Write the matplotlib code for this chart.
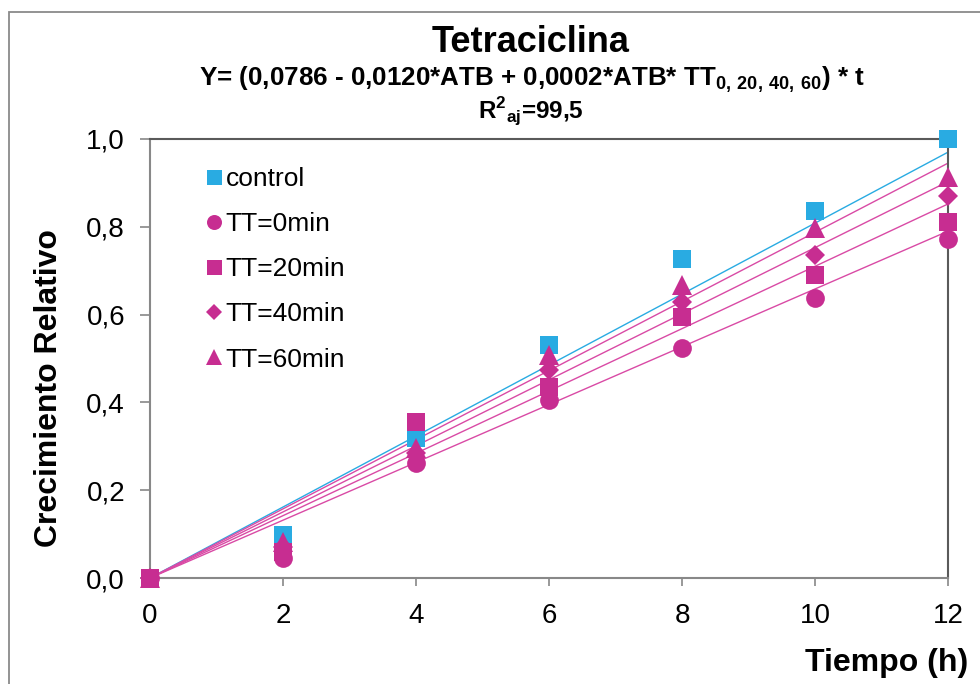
import matplotlib
matplotlib.use('Agg')
import matplotlib.pyplot as plt
from matplotlib.patches import Rectangle

plt.rcParams['font.family'] = ['Liberation Sans', 'DejaVu Sans']
plt.rcParams['mathtext.fontset'] = 'custom'
plt.rcParams['mathtext.rm'] = 'Liberation Sans'
plt.rcParams['mathtext.bf'] = 'Liberation Sans:bold'

# datos
tiempo = [0, 2, 4, 6, 8, 10, 12]
control = [0.0, 0.098, 0.319, 0.531, 0.727, 0.835, 1.0]
tt0 = [0.0, 0.046, 0.262, 0.405, 0.524, 0.638, 0.772]
tt20 = [0.0, 0.060, 0.356, 0.436, 0.595, 0.690, 0.811]
tt40 = [0.0, 0.070, 0.284, 0.474, 0.628, 0.736, 0.870]
tt60 = [0.0, 0.082, 0.296, 0.508, 0.667, 0.797, 0.914]

# rectas ajustadas (valor en t=0 y t=12)
t_ajuste = [0, 12]
ajuste_control = [0.0, 0.970]
ajuste_tt0 = [0.0, 0.790]
ajuste_tt20 = [0.0, 0.852]
ajuste_tt40 = [0.0, 0.903]
ajuste_tt60 = [0.0, 0.945]

azul = '#29abe2'
magenta = '#c72d91'
linea_mag = '#d94aa5'

fig = plt.figure(figsize=(9.8, 6.84), dpi=100)
ax = fig.add_axes([150/980, 1 - 578/684, 798/980, 439/684])

# borde exterior del grafico
fig.add_artist(Rectangle((9/980, -0.1), 1.2, 1 - 12/684 + 0.1, transform=fig.transFigure,
                         fill=False, edgecolor='#8a8a8a', linewidth=1.3, clip_on=False))

ax.plot(t_ajuste, ajuste_control, color=azul, lw=1.0, zorder=2)
for aj in [ajuste_tt0, ajuste_tt20, ajuste_tt40, ajuste_tt60]:
    ax.plot(t_ajuste, aj, color=linea_mag, lw=1.0, zorder=2)

ax.plot(tiempo, control, 's', color=azul, ms=13.5, mew=0, label='control', zorder=3, clip_on=False)
ax.plot(tiempo, tt0, 'o', color=magenta, ms=13.5, mew=0, label='TT=0min', zorder=3, clip_on=False)
ax.plot(tiempo, tt20, 's', color=magenta, ms=13.5, mew=0, label='TT=20min', zorder=3, clip_on=False)
ax.plot(tiempo, tt40, 'D', color=magenta, ms=10, mew=0, label='TT=40min', zorder=3, clip_on=False)
ax.plot(tiempo, tt60, '^', color=magenta, ms=14, mew=0, label='TT=60min', zorder=3, clip_on=False)

ax.set_xlim(0, 12)
ax.set_ylim(0, 1.0)
ax.set_xticks(range(0, 13, 2))
ax.set_yticks([0, 0.2, 0.4, 0.6, 0.8, 1.0])
ax.set_yticklabels(['0,0', '0,2', '0,4', '0,6', '0,8', '1,0'])
ax.tick_params(direction='out', width=1.2, colors='#888888', labelcolor='black', labelsize=20)
ax.tick_params(axis='x', length=6, pad=12)
ax.tick_params(axis='y', length=7, pad=11)
for s in ['left', 'bottom']:
    ax.spines[s].set_color('#888888')
    ax.spines[s].set_linewidth(1.5)
for s in ['top', 'right']:
    ax.spines[s].set_color('#5a5a5a')
    ax.spines[s].set_linewidth(1.5)

leg = ax.legend(loc='upper left', bbox_to_anchor=(0.057, 0.96), frameon=False, fontsize=19,
                handlelength=0.6, handletextpad=0.15, labelspacing=0.8, borderaxespad=0,
                markerscale=0.8)

fig.text(531/980, 1 - 43/684, 'Tetraciclina', ha='center', va='center',
         fontsize=26, fontweight='bold')
fig.text(532/980, 1 - 80/684,
         r'Y= (0,0786 - 0,0120*ATB + 0,0002*ATB* TT$_{\mathbf{0,\,20,\,40,\,60}}$) * t',
         ha='center', va='center', fontsize=18.7, fontweight='bold')
fig.text(531/980, 1 - 112/684, r'R$^{\mathbf{2}}$$_{\mathbf{aj}}$=99,5', ha='center', va='center',
         fontsize=17.5, fontweight='bold')

fig.text(968/980, 1 - 663/684, 'Tiempo (h)', ha='right', va='center', fontsize=23, fontweight='bold')
fig.text(49/980, 1 - 388/684, 'Crecimiento Relativo', ha='center', va='center', rotation=90,
         fontsize=23, fontweight='bold')

fig.savefig('out.png', dpi=100)
